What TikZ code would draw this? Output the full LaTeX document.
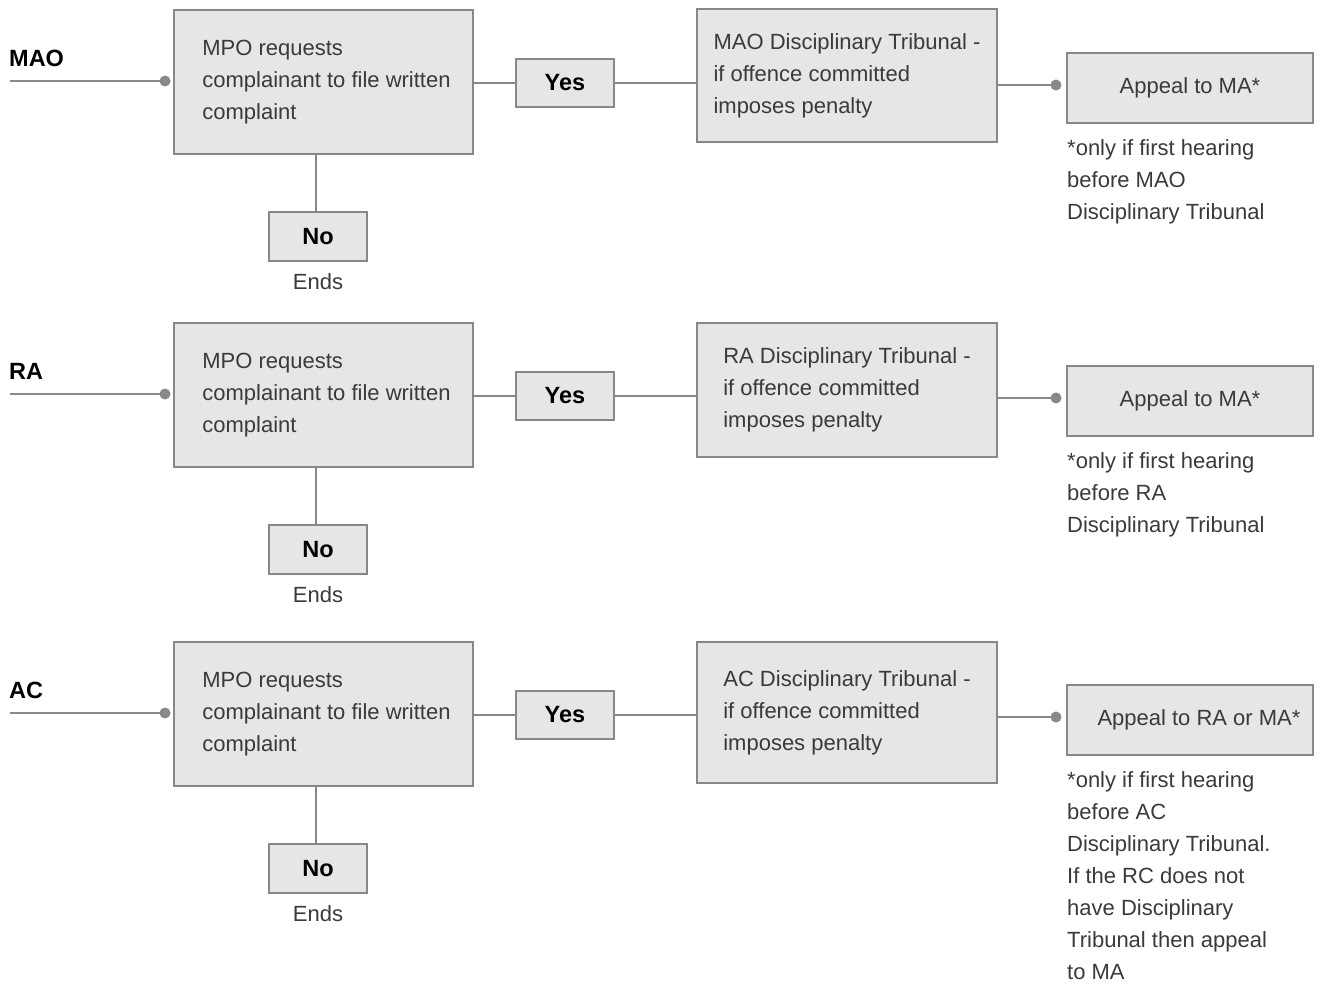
\documentclass[tikz,border=0pt]{standalone}
\usepackage{fontspec}
\setmainfont{Liberation Sans}
\definecolor{linegray}{HTML}{888888}
\definecolor{boxgray}{HTML}{E6E6E6}
\definecolor{textgray}{HTML}{3A3A3A}

% One row of the procedure:
% #1 id, #2 vertical offset, #3 body label, #4 tribunal text,
% #5 tribunal centre (row-local y), #6 tribunal height, #7 appeal text, #8 footnote
\newcommand\flowrow[8]{%
  \begin{scope}[yshift=-#2pt]
    \node[lab, anchor=west] (lab#1) at (9,58) {#3};
    \coordinate (in#1) at (10,81);
    \node[dot] (din#1) at (165,81) {};
    \node[box, minimum width=299pt, minimum height=144pt] (mpo#1) at (323.5,82)
      {\hspace*{6pt}MPO requests\\\hspace*{6pt}complainant to file written\\\hspace*{6pt}complaint};
    \node[tag] (yes#1) at (565,83) {Yes};
    \node[box, minimum width=300pt, minimum height=#6pt] (trib#1) at (847,#5) {#4};
    \node[dot] (dout#1) at (1056,85) {};
    \node[box, align=center, minimum width=246pt, minimum height=70pt] (app#1) at (1190,88) {#7};
    \node[txt, anchor=north west, align=left, inner sep=0pt] (note#1) at (1067,139) {#8};
    \node[tag, minimum height=49pt] (no#1) at (318,236.5) {No};
    \node[txt] (end#1) at (318,282) {Ends};
    \coordinate (nt#1) at ([xshift=-2pt]no#1.north);
    \draw[conn] (in#1) -- (din#1.center);
    \draw[conn] (mpo#1.east |- yes#1) -- (yes#1.west);
    \draw[conn] (yes#1.east) -- (trib#1.west |- yes#1);
    \draw[conn] (trib#1.east |- dout#1) -- (dout#1.center);
    \draw[conn] (nt#1) -- (nt#1 |- mpo#1.south);
  \end{scope}}

\begin{document}
\begin{tikzpicture}[x=1pt, y=-1pt,
  txt/.style={font=\fontsize{22}{32}\selectfont, text=textgray},
  lab/.style={font=\fontsize{23.5}{27}\selectfont\bfseries, text=black, inner sep=0pt},
  box/.style={txt, draw=linegray, line width=2.5pt, fill=boxgray, align=left, inner sep=0pt},
  tag/.style={draw=linegray, line width=2.5pt, fill=boxgray, minimum width=98pt,
    minimum height=48pt, inner sep=0pt, font=\fontsize{23.5}{27}\selectfont\bfseries, text=black},
  conn/.style={draw=linegray, line width=2.5pt},
  dot/.style={circle, fill=linegray, inner sep=0pt, minimum size=11pt}]
  \useasboundingbox (0,0) rectangle (1319,987);

  \flowrow{a}{0}{MAO}{MAO Disciplinary Tribunal -\\if offence committed\\imposes penalty}{75.5}{133}
    {Appeal to MA*}{*only if first hearing\\before MAO\\Disciplinary Tribunal}
  \flowrow{b}{313}{RA}{RA Disciplinary Tribunal -\\if offence committed\\imposes penalty}{77}{134}
    {Appeal to MA*}{*only if first hearing\\before RA\\Disciplinary Tribunal}
  \flowrow{c}{632}{AC}{AC Disciplinary Tribunal -\\if offence committed\\imposes penalty}{80.5}{141}
    {\hspace*{18pt}Appeal to RA or MA*}{*only if first hearing\\before AC\\Disciplinary Tribunal.\\If the RC does not\\have Disciplinary\\Tribunal then appeal\\to MA}
\end{tikzpicture}
\end{document}
